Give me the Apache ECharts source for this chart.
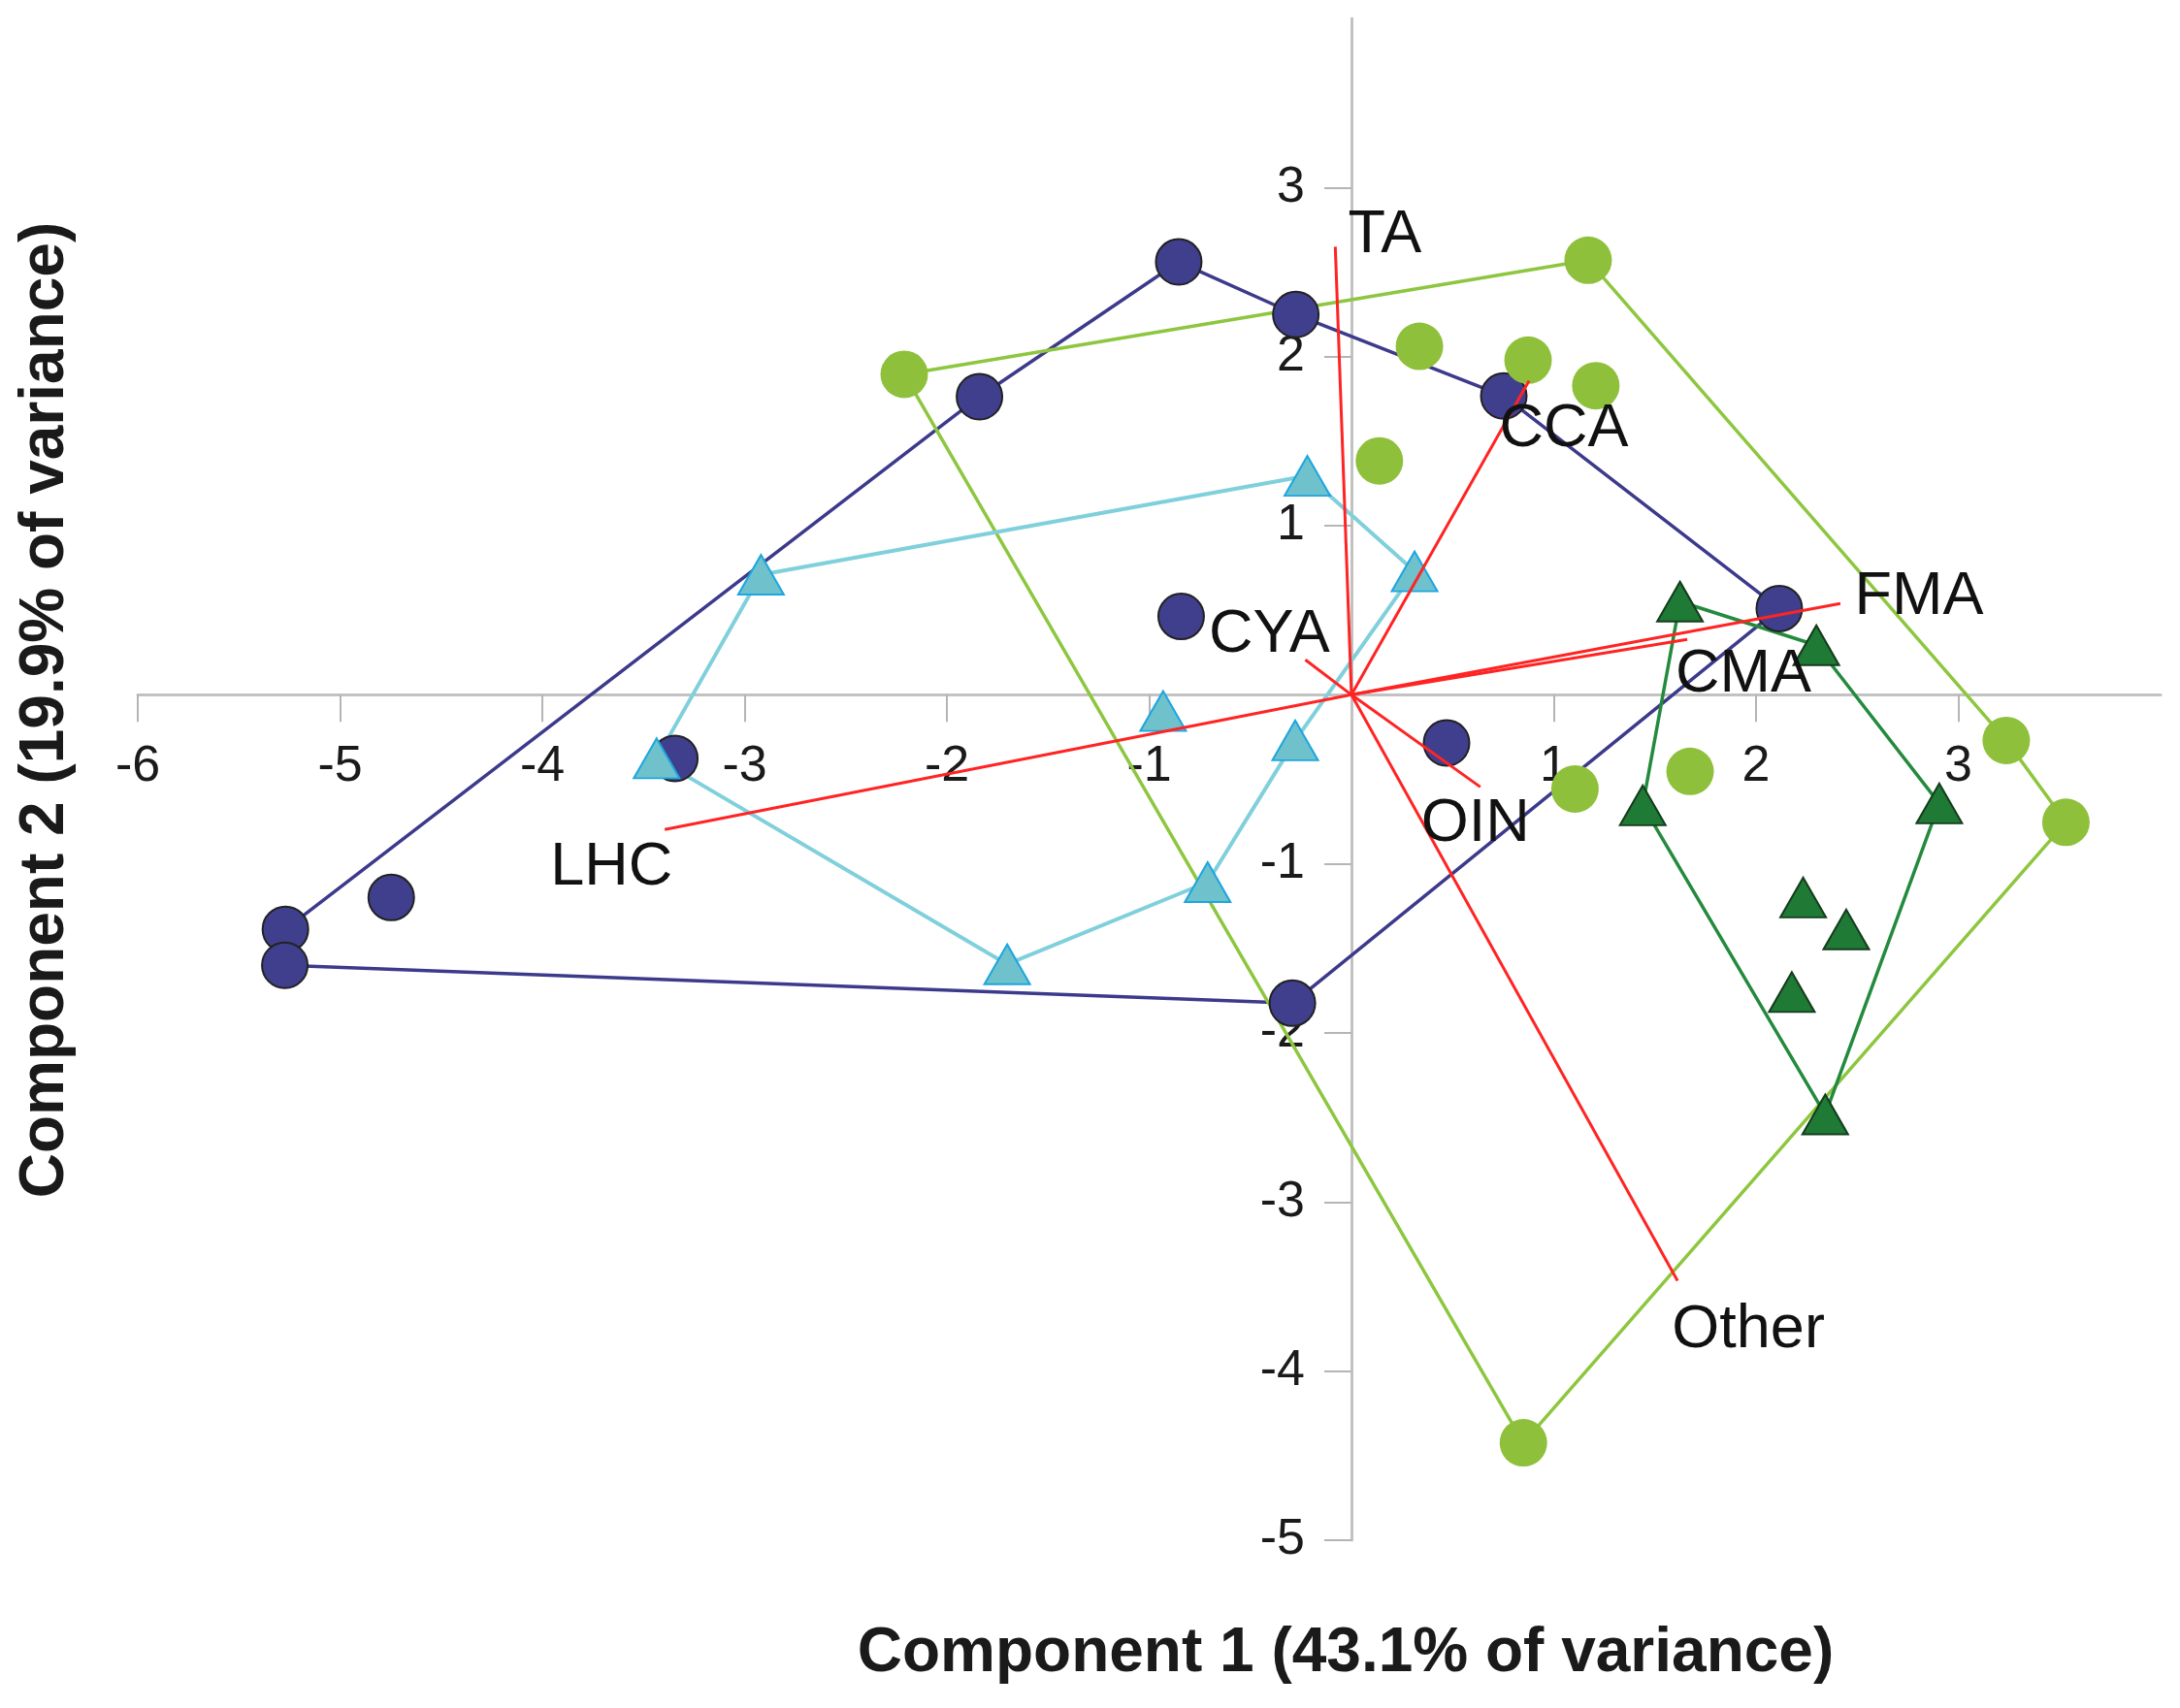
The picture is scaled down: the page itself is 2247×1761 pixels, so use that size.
<!DOCTYPE html>
<html><head><meta charset="utf-8">
<script src="https://cdn.jsdelivr.net/npm/echarts@6/dist/echarts.min.js"></script>
<style>html,body{margin:0;padding:0;background:#fff}#c{width:2247px;height:1761px}</style>
</head><body><div id="c"></div>
<script>
// ---- data ----
const navyPoints = [[-0.854,2.56],[-0.275,2.249],[-1.839,1.763],[0.753,1.767],[2.115,0.51],[-0.842,0.463],[0.47,-0.285],[-3.345,-0.376],[-4.747,-1.199],[-5.27,-1.387],[-5.273,-1.60],[-0.292,-1.824]];
const navyHull = [9,2,0,1,3,4,11,10,9];
const greenPoints = [[1.17,2.57],[-2.211,1.895],[0.336,2.061],[0.873,1.979],[1.208,1.828],[0.138,1.383],[1.105,-0.557],[1.674,-0.453],[3.237,-0.27],[3.532,-0.754],[0.85,-4.424]];
const greenHull = [1,0,8,9,10,1];
const cyanPoints = [[-0.218,1.295],[-2.919,0.71],[0.312,0.73],[-0.931,-0.096],[-0.278,-0.27],[-3.435,-0.376],[-0.711,-1.108],[-1.702,-1.594]];
const cyanHull = [1,0,2,4,6,7,5,1];
const darkGreenPoints = [[1.624,0.551],[2.298,0.293],[1.44,-0.654],[2.906,-0.643],[2.233,-1.199],[2.446,-1.388],[2.177,-1.758],[2.342,-2.482]];
const darkGreenHull = [0,1,3,7,2,0];
const loadingNames = ['TA','CCA','FMA','CMA','CYA','OIN','Other','LHC'];
const loadingX = [-0.08,0.878,2.417,1.66,-0.228,0.637,1.612,-3.395];
const loadingY = [2.65,1.857,0.54,0.327,0.207,-0.545,-3.465,-0.797];
const xTicks = [-6,-5,-4,-3,-2,-1,1,2,3];
const yTicks = [3,2,1,-1,-2,-3,-4,-5];
const xRange = [-6, 4];
const yRange = [-5, 4];
const xTitle = 'Component 1 (43.1% of variance)';
const yTitle = 'Component 2 (19.9% of variance)';

// ---- styling ----
const labelOffsets = [[51,-12],[36,50],[81,-7],[58,36],[-37,-26],[-5,38],[73,51],[-55,39]];
const FONT = "'Liberation Sans', Arial, sans-serif";
const chart = echarts.init(document.getElementById('c'));

function hullSeries(points, hull, color, width) {
  return {type:'line', data: hull.map(i => points[i]), showSymbol:false, symbol:'none',
    lineStyle:{color, width}, z:1, silent:true, animation:false};
}
function markerSeries(points, symbol, size, fill, border, bw, z) {
  return {type:'scatter', data: points, symbol, symbolSize:size, z,
    itemStyle:{color:fill, borderColor:border, borderWidth:bw, opacity:1}, silent:true, animation:false};
}
function axis(range, ticks) {
  return {
    type:'value', min:range[0], max:range[1], interval:1, offset:0,
    axisLine:{onZero:false, lineStyle:{color:'#c2c2c2', width:3}},
    axisTick:{show:true, length:28, customValues:ticks, lineStyle:{color:'#b5b5b5', width:2}},
    splitLine:{show:false},
    axisLabel:{color:'#1a1a1a', fontSize:52, fontFamily:FONT, margin:48, customValues:ticks}
  };
}

chart.setOption({
  animation:false,
  backgroundColor:'#fff',
  grid:{left:142, right:20, top:19, bottom:173, containLabel:false, outerBoundsMode:'none'},
  xAxis: axis(xRange, xTicks),
  yAxis: axis(yRange, yTicks),
  graphic:[
    {type:'text', x:1387, y:1705, z:100, style:{text:xTitle, fill:'#1a1a1a', font:"bold 64px "+FONT, align:'center', verticalAlign:'middle'}},
    {type:'text', x:47, y:732, rotation:Math.PI/2, z:100, style:{text:yTitle, fill:'#1a1a1a', font:"bold 64px "+FONT, align:'center', verticalAlign:'middle'}}
  ],
  series:[
    hullSeries(navyPoints, navyHull, '#3d3a8c', 3.5),
    hullSeries(greenPoints, greenHull, '#8dc63f', 3.5),
    hullSeries(cyanPoints, cyanHull, '#80d0dc', 4),
    hullSeries(darkGreenPoints, darkGreenHull, '#248a3d', 3.5),
    markerSeries(navyPoints, 'circle', 47, '#403f8e', '#222222', 2, 3),
    markerSeries(greenPoints, 'circle', 49, '#8fc03c', '#8fc03c', 0, 4),
    markerSeries(cyanPoints, 'triangle', [47,41], '#6fc2cc', '#1ea6df', 2, 5),
    markerSeries(darkGreenPoints, 'triangle', [47,41], '#1f7a36', '#143d1c', 2, 6),
    {type:'lines', coordinateSystem:'cartesian2d', z:8, silent:true, animation:false,
      lineStyle:{color:'#ff2424', width:3, opacity:1},
      data: loadingNames.map((n,i) => ({coords:[[0,0],[loadingX[i], loadingY[i]]]}))},
    {type:'scatter', z:10, silent:true, animation:false, symbolSize:2, itemStyle:{color:'rgba(0,0,0,0)', opacity:1},
      label:{show:true, position:'inside', formatter:p => p.name, color:'#111111', opacity:1, textBorderWidth:0,
        fontSize:63, fontFamily:FONT, align:'center', verticalAlign:'middle'},
      data: loadingNames.map((n,i) => ({name:n, value:[loadingX[i], loadingY[i]], label:{offset:labelOffsets[i]}}))}
  ]
});

// move the axes so that they cross at the origin (through the library's own scale)
const origin = chart.convertToPixel({gridIndex:0}, [0, 0]);
const corner = chart.convertToPixel({gridIndex:0}, [xRange[0], yRange[0]]);
chart.setOption({
  xAxis:{offset: origin[1] - corner[1]},
  yAxis:{offset: corner[0] - origin[0]}
});
</script></body></html>
